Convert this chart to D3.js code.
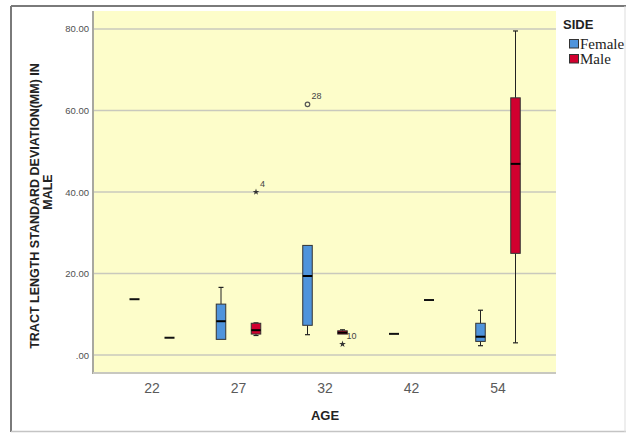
<!DOCTYPE html>
<html>
<head>
<meta charset="utf-8">
<script src="https://cdn.jsdelivr.net/npm/d3@7/dist/d3.min.js"></script>
<style>
  html, body { margin: 0; padding: 0; background: #ffffff; }
  svg { display: block; }
</style>
</head>
<body>
<svg id="chart" width="626" height="433"></svg>
<script>
// Age groups along the x axis and the two sides drawn in each group
const ages = ["22", "27", "32", "42", "54"];
const sides = ["Female", "Male"];

// Box-plot summaries per age group (whisker low, Q1, median, Q3, whisker high)
const femaleLow    = [13.7, 3.85,  5.0, 5.2,  2.3];
const femaleQ1     = [13.7, 3.85,  7.3, 5.2,  3.35];
const femaleMedian = [13.7, 8.3,  19.4, 5.2,  4.5];
const femaleQ3     = [13.7, 12.5, 26.9, 5.2,  7.8];
const femaleHigh   = [13.7, 16.6, 26.9, 5.2, 11.0];

const maleLow    = [4.25, 4.8,  5.15, 13.5,  3.0];
const maleQ1     = [4.25, 5.15, 5.15, 13.5, 24.95];
const maleMedian = [4.25, 6.1,  5.5,  13.5, 46.9];
const maleQ3     = [4.25, 7.8,  5.95, 13.5, 63.1];
const maleHigh   = [4.25, 7.9,  6.2,  13.5, 79.5];

// Flagged cases: outliers (circle) and extremes (star), with case numbers
const outlierAge   = ["27", "32", "32"];
const outlierSide  = ["Male", "Female", "Male"];
const outlierValue = [40.0, 61.5, 2.7];
const outlierCase  = ["4", "28", "10"];
const outlierKind  = ["extreme", "outlier", "extreme"];

// Y axis ticks
const yTicks = [0, 20, 40, 60, 80];

const sideColor = { Female: "#4f94dc", Male: "#d1002f" };

const svg = d3.select("#chart");

// Outer frame
svg.append("line").attr("x1", 11).attr("x2", 626).attr("y1", 6).attr("y2", 6)
  .attr("stroke", "#7a7a7a").attr("stroke-width", 2);
svg.append("line").attr("x1", 11).attr("x2", 11).attr("y1", 6).attr("y2", 432)
  .attr("stroke", "#7a7a7a").attr("stroke-width", 2);
svg.append("line").attr("x1", 11).attr("x2", 626).attr("y1", 431.5).attr("y2", 431.5)
  .attr("stroke", "#c4c4c4").attr("stroke-width", 1.5);
svg.append("line").attr("x1", 625).attr("x2", 625).attr("y1", 6).attr("y2", 432)
  .attr("stroke", "#dddddd").attr("stroke-width", 1);

const plot = { left: 93, right: 556, top: 11, bottom: 373 };

const y = d3.scaleLinear().domain([-4.4, 84.4]).range([plot.bottom, plot.top]);
const x = d3.scaleBand().domain(ages).range([108.75, 541.25]).padding(0);
const xSide = d3.scalePoint().domain(sides).range([-17.5, 17.5]);
const cx = (age, side) => x(age) + x.bandwidth() / 2 + xSide(side);

// Plot background
svg.append("rect")
  .attr("x", plot.left).attr("y", plot.top)
  .attr("width", plot.right - plot.left).attr("height", plot.bottom - plot.top)
  .attr("fill", "#fdfdca");

// Gridlines
svg.append("g").selectAll("line").data(yTicks).join("line")
  .attr("x1", plot.left).attr("x2", plot.right)
  .attr("y1", d => y(d)).attr("y2", d => y(d))
  .attr("stroke", "#c9c9bd").attr("stroke-width", 1.5);

// Plot border (left and bottom)
svg.append("line").attr("x1", plot.left).attr("x2", plot.left)
  .attr("y1", plot.top).attr("y2", plot.bottom + 1)
  .attr("stroke", "#a8a8a0").attr("stroke-width", 2);
svg.append("line").attr("x1", plot.left).attr("x2", plot.right)
  .attr("y1", plot.bottom).attr("y2", plot.bottom)
  .attr("stroke", "#c8c8c0").attr("stroke-width", 2);

// Y axis labels
const fmt = v => d3.format(".2f")(v).replace(/^0\./, ".");
const yAxis = d3.axisLeft(y).tickValues(yTicks).tickFormat(fmt).tickSize(0).tickPadding(4);
const gy = svg.append("g").attr("transform", `translate(${plot.left},0)`).call(yAxis);
gy.select(".domain").remove();
gy.selectAll("text")
  .attr("font-family", "Arial, 'Liberation Sans', sans-serif")
  .attr("font-size", 9.5).attr("fill", "#505050");

// X axis labels
const xAxis = d3.axisBottom(x).tickSize(0).tickPadding(10);
const gx = svg.append("g").attr("transform", `translate(0,${plot.bottom})`).call(xAxis);
gx.select(".domain").remove();
gx.selectAll("text")
  .attr("font-family", "Arial, 'Liberation Sans', sans-serif")
  .attr("font-size", 14).attr("fill", "#5a5a5a");

// Axis titles
svg.append("text")
  .attr("x", 325).attr("y", 420)
  .attr("text-anchor", "middle")
  .attr("font-family", "Arial, 'Liberation Sans', sans-serif")
  .attr("font-size", 13).attr("font-weight", "bold").attr("fill", "#222")
  .text("AGE");

const yTitle = svg.append("g").attr("font-family", "Arial, 'Liberation Sans', sans-serif")
  .attr("font-size", 12.5).attr("font-weight", "bold").attr("fill", "#222")
  .attr("text-anchor", "middle");
yTitle.append("text")
  .attr("transform", "translate(39,206) rotate(-90)")
  .text("TRACT LENGTH STANDARD DEVIATION(MM) IN");
yTitle.append("text")
  .attr("transform", "translate(52,192) rotate(-90)")
  .text("MALE");

// Assemble box records from the summary arrays
const boxes = [];
ages.forEach((age, i) => {
  boxes.push({ age, side: "Female", low: femaleLow[i], q1: femaleQ1[i], med: femaleMedian[i], q3: femaleQ3[i], high: femaleHigh[i] });
  boxes.push({ age, side: "Male", low: maleLow[i], q1: maleQ1[i], med: maleMedian[i], q3: maleQ3[i], high: maleHigh[i] });
});

const outliers = outlierAge.map((age, i) => ({
  age, side: outlierSide[i], value: outlierValue[i], id: outlierCase[i], kind: outlierKind[i]
}));

// Case-number labels (drawn beneath the boxes)
svg.append("g").selectAll("text").data(outliers).join("text")
  .attr("x", d => cx(d.age, d.side) + 4)
  .attr("y", d => y(d.value) - 5)
  .attr("font-family", "Arial, 'Liberation Sans', sans-serif")
  .attr("font-size", 9).attr("fill", "#444")
  .text(d => d.id);

const boxW = 9.5, capW = 5;
const gBox = svg.append("g");

boxes.forEach(b => {
  const c = cx(b.age, b.side);
  const g = gBox.append("g");
  if (b.q3 - b.q1 < 1e-9) {
    // Single observation: a short bar at the value
    g.append("line")
      .attr("x1", c - 5).attr("x2", c + 5)
      .attr("y1", y(b.med)).attr("y2", y(b.med))
      .attr("stroke", "#111").attr("stroke-width", 2);
    return;
  }
  // Whiskers
  if (b.high > b.q3) {
    g.append("line").attr("x1", c).attr("x2", c).attr("y1", y(b.q3)).attr("y2", y(b.high))
      .attr("stroke", "#222").attr("stroke-width", 1);
    g.append("line").attr("x1", c - capW / 2).attr("x2", c + capW / 2)
      .attr("y1", y(b.high)).attr("y2", y(b.high))
      .attr("stroke", "#222").attr("stroke-width", 1.2);
  }
  if (b.low < b.q1) {
    g.append("line").attr("x1", c).attr("x2", c).attr("y1", y(b.q1)).attr("y2", y(b.low))
      .attr("stroke", "#222").attr("stroke-width", 1);
    g.append("line").attr("x1", c - capW / 2).attr("x2", c + capW / 2)
      .attr("y1", y(b.low)).attr("y2", y(b.low))
      .attr("stroke", "#222").attr("stroke-width", 1.2);
  }
  // Box
  g.append("rect")
    .attr("x", c - boxW / 2).attr("y", y(b.q3))
    .attr("width", boxW).attr("height", y(b.q1) - y(b.q3))
    .attr("fill", sideColor[b.side]).attr("stroke", "#333").attr("stroke-width", 1);
  // Median
  g.append("line")
    .attr("x1", c - boxW / 2).attr("x2", c + boxW / 2)
    .attr("y1", y(b.med)).attr("y2", y(b.med))
    .attr("stroke", "#000").attr("stroke-width", 2);
});

// Outlier markers
const gOut = svg.append("g");
outliers.forEach(o => {
  const px = cx(o.age, o.side), py = y(o.value);
  if (o.kind === "outlier") {
    gOut.append("circle").attr("cx", px).attr("cy", py).attr("r", 2.3)
      .attr("fill", "none").attr("stroke", "#555").attr("stroke-width", 1.2);
  } else {
    gOut.append("path")
      .attr("d", d3.symbol().type(d3.symbolStar).size(14)())
      .attr("transform", `translate(${px},${py})`)
      .attr("fill", "#333");
  }
});

// Legend
const legend = svg.append("g");
legend.append("text")
  .attr("x", 563).attr("y", 29)
  .attr("font-family", "Arial, 'Liberation Sans', sans-serif")
  .attr("font-size", 13).attr("font-weight", "bold").attr("fill", "#222")
  .text("SIDE");
sides.forEach((s, i) => {
  const yy = 39 + i * 15;
  legend.append("rect")
    .attr("x", 569.5).attr("y", yy + 0.5).attr("width", 9).attr("height", 8.5)
    .attr("fill", sideColor[s]).attr("stroke", "#333").attr("stroke-width", 1);
  legend.append("text")
    .attr("x", 580).attr("y", yy + 9.5)
    .attr("font-family", "'Liberation Serif', 'Times New Roman', serif")
    .attr("font-size", 15).attr("fill", "#222")
    .text(s);
});
</script>
</body>
</html>
